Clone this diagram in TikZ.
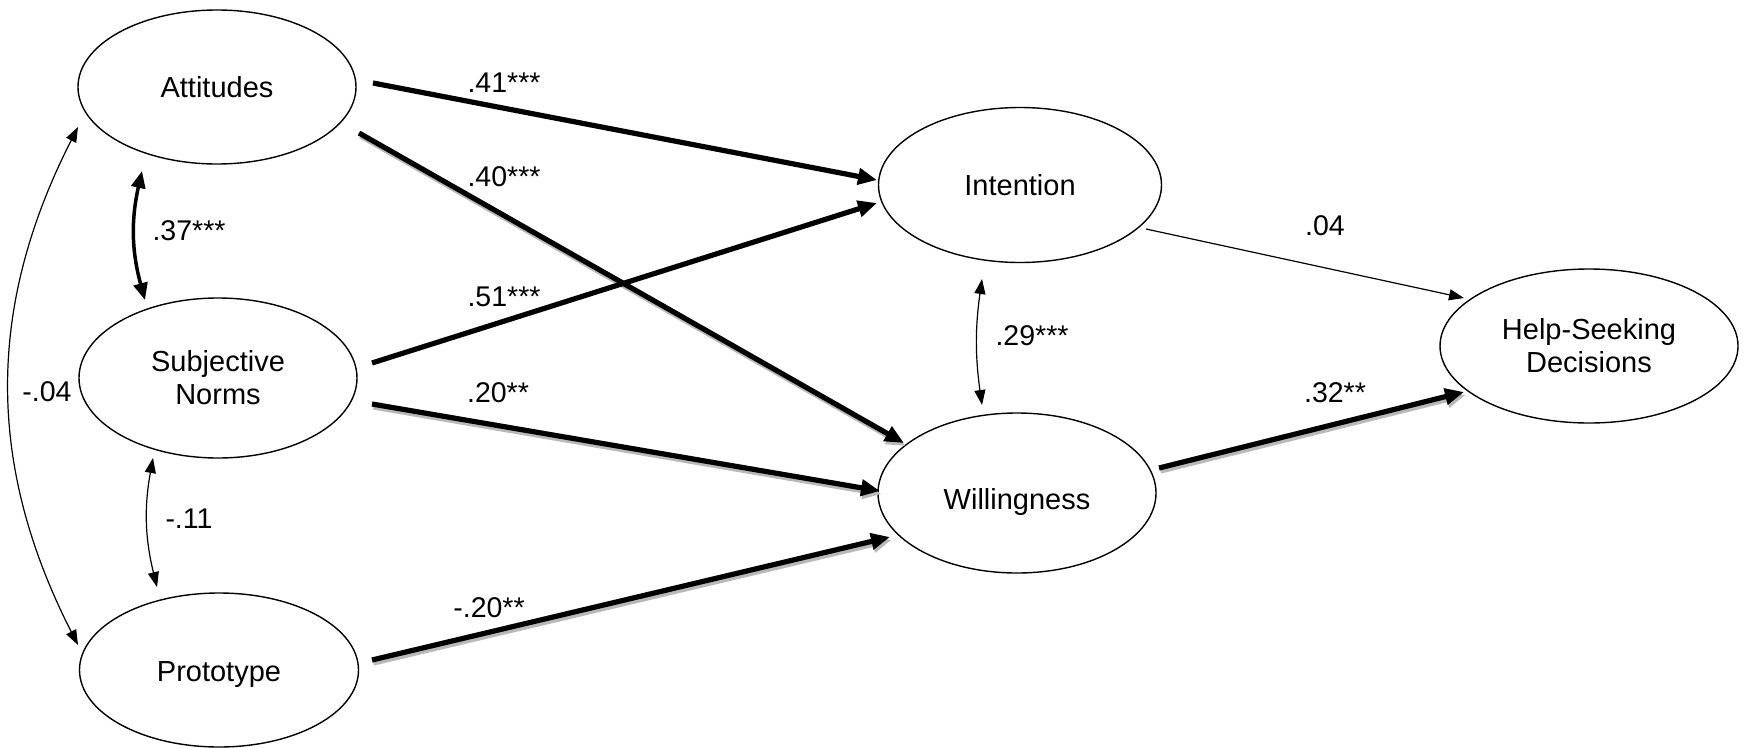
\documentclass[tikz,border=0pt]{standalone}
\usepackage{fontspec}
\setmainfont{Liberation Sans}
\usetikzlibrary{shapes.geometric,arrows.meta,calc}
\begin{document}
\begin{tikzpicture}[x=1pt,y=-1pt,
  latent/.style={ellipse,draw,line width=1.4pt,inner sep=0pt,align=center,
    font=\fontsize{29}{33}\selectfont},
  lbl/.style={font=\fontsize{28.5}{33}\selectfont,inner sep=0pt},
  bigarrow/.style={line width=5.2pt,-{Triangle[length=19pt,width=16pt]}},
  shadowline/.style={line width=5.2pt,draw=gray!55,-{Triangle[length=19pt,width=16pt]},
    transform canvas={shift={(1.5pt,-3pt)}}},
  thinarrow/.style={line width=1.2pt,-{Triangle[length=15pt,width=11pt]}},
  thinboth/.style={line width=1.2pt,{Triangle[length=15pt,width=11pt]}-{Triangle[length=15pt,width=11pt]}},
  medboth/.style={line width=3.5pt,{Triangle[length=17pt,width=14pt]}-{Triangle[length=17pt,width=14pt]}}
]
\useasboundingbox (0,0) rectangle (1744,747);

% nodes
\node[latent,minimum width=278pt,minimum height=154pt] (att) at (217,87) {Attitudes};
\node[latent,minimum width=278pt,minimum height=160pt] (sn) at (218,378) {Subjective\\Norms};
\node[latent,minimum width=279pt,minimum height=154pt] (pro) at (219,670) {\rule{0pt}{29pt}Prototype};
\node[latent,minimum width=283pt,minimum height=155pt] (int) at (1020,185) {Intention};
\node[latent,minimum width=278pt,minimum height=160pt] (will) at (1017,493) {\rule{0pt}{39pt}Willingness};
\node[latent,minimum width=298pt,minimum height=154pt] (hs) at (1589,346) {Help-Seeking\\Decisions};

% paths with shadow
\draw[shadowline] ($(att)+(142,46)$) -- ($(will)+(-113,-50)$);
\draw[shadowline] ($(sn)+(154,26)$) -- ($(will)+(-137,-2)$);
\draw[shadowline] ($(pro)+(153,-10)$) -- ($(will)+(-127,44)$);
\draw[shadowline] ($(will)+(142,-25)$) -- ($(hs)+(-125,46)$);

% structural paths
\draw[bigarrow] ($(att)+(156,-4)$) -- ($(int)+(-143,-5)$);
\draw[bigarrow] ($(att)+(142,46)$) -- ($(will)+(-113,-50)$);
\draw[bigarrow] ($(sn)+(154,-15)$) -- ($(int)+(-143,18)$);
\draw[bigarrow] ($(sn)+(154,26)$) -- ($(will)+(-137,-2)$);
\draw[bigarrow] ($(pro)+(153,-10)$) -- ($(will)+(-127,44)$);
\draw[bigarrow] ($(will)+(142,-25)$) -- ($(hs)+(-125,46)$);
\draw[thinarrow] ($(int)+(126,44)$) -- ($(hs)+(-125,-48)$);

% correlations
\draw[medboth] ($(att)+(-75,84)$) to[bend right=14] ($(sn)+(-73,-78)$);
\draw[thinboth] ($(sn)+(-65,80)$) to[bend right=12] ($(pro)+(-62,-83)$);
\draw[thinboth] ($(att)+(-139,40)$) to[bend right=27] ($(pro)+(-141,-25)$);
\draw[thinboth] ($(int)+(-38,94)$) to[bend right=8] ($(will)+(-35,-88)$);

% labels
\node[lbl] (l41) at (504,83) {.41***};
\node[lbl] (l40) at (504,177) {.40***};
\node[lbl] (l51) at (504,297) {.51***};
\node[lbl] (l20) at (498,393) {.20**};
\node[lbl] (lm20) at (489,608) {-.20**};
\node[lbl] (l37) at (189,231) {.37***};
\node[lbl] (lm04) at (47,392) {-.04};
\node[lbl] (lm11) at (189,519) {-.11};
\node[lbl] (l04) at (1325,226) {.04};
\node[lbl] (l29) at (1032,336) {.29***};
\node[lbl] (l32) at (1335,393) {.32**};
\end{tikzpicture}
\end{document}
